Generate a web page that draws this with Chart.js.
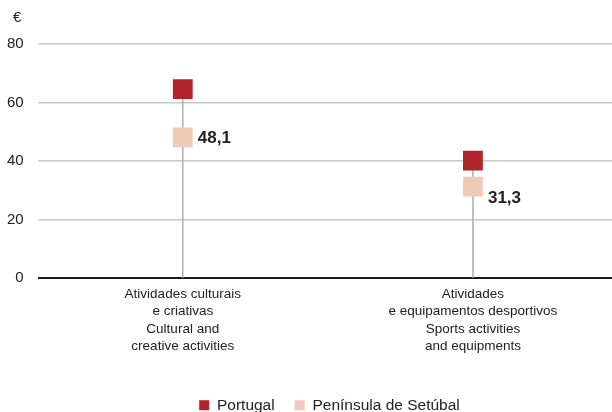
<!DOCTYPE html>
<html lang="pt">
<head>
  <meta charset="UTF-8">
  <title>Atividades culturais e desportivas</title>
  <script src="https://cdn.jsdelivr.net/npm/chart.js"></script>
  <style>
    html, body { margin: 0; padding: 0; background: #fff; overflow: hidden; }
    #wrap { width: 660px; height: 412px; position: relative; }
  </style>
</head>
<body>
<div id="wrap"><canvas id="chart"></canvas></div>

<script>
    // Data
    const categories = [
        ['Atividades culturais', 'e criativas', 'Cultural and', 'creative activities'],
        ['Atividades', 'e equipamentos desportivos', 'Sports activities', 'and equipments']
    ];
    const portugal = [64.6, 40.2];
    const setubal = [48.1, 31.3];
    const yTicks = [0, 20, 40, 60, 80];

    // stem goes from 0 up to the higher marker
    const stems = portugal.map((v, i) => Math.max(v, setubal[i]));

    const textColor = '#222222';
    const fontFamily = '"Liberation Sans", Arial, sans-serif';

    // euro sign above the y axis
    const euroSign = {
        id: 'euroSign',
        afterDraw(chart) {
            const c = chart.ctx;
            c.save();
            c.font = '15px ' + fontFamily;
            c.fillStyle = textColor;
            c.textAlign = 'left';
            c.textBaseline = 'middle';
            c.fillText('€', 13, 18);
            c.restore();
        }
    };

    // nudge the legend to the right like in the original
    const legendShift = {
        id: 'legendShift',
        afterLayout(chart) {
            chart.legend.left += 24;
            chart.legend.right += 24;
        }
    };

    // value labels next to the Peninsula markers
    const valueLabels = {
        id: 'valueLabels',
        afterDatasetsDraw(chart) {
            const c = chart.ctx;
            const meta = chart.getDatasetMeta(2);
            c.save();
            c.font = 'bold 17px ' + fontFamily;
            c.fillStyle = textColor;
            c.textAlign = 'left';
            c.textBaseline = 'middle';
            meta.data.forEach((pt, i) => {
                const dy = i === 1 ? 12 : 1;
                c.fillText(setubal[i].toFixed(1).replace('.', ','), pt.x + 15, pt.y + dy);
            });
            c.restore();
        }
    };

    new Chart(document.getElementById('chart'), {
        data: {
            labels: categories,
            datasets: [
                {
                    type: 'bar',
                    label: 'stem',
                    data: stems,
                    backgroundColor: '#b4b4b4',
                    barThickness: 1,
                    order: 3
                },
                {
                    type: 'line',
                    label: 'Portugal',
                    data: portugal,
                    showLine: false,
                    pointStyle: 'rect',
                    pointRadius: 14,
                    pointHoverRadius: 14,
                    backgroundColor: '#b0242b',
                    borderColor: '#b0242b',
                    borderWidth: 0,
                    pointBorderWidth: 0,
                    order: 1
                },
                {
                    type: 'line',
                    label: 'Península de Setúbal',
                    data: setubal,
                    showLine: false,
                    pointStyle: 'rect',
                    pointRadius: 14,
                    pointHoverRadius: 14,
                    backgroundColor: '#f0cab9',
                    borderColor: '#f0cab9',
                    borderWidth: 0,
                    pointBorderWidth: 0,
                    order: 2
                }
            ]
        },
        options: {
            responsive: true,
            maintainAspectRatio: false,
            animation: false,
            // canvas is wider than the window so the plot runs off the right edge
            layout: { padding: { top: 44, left: -7, right: 42, bottom: -11 } },
            scales: {
                x: {
                    grid: { display: false },
                    border: { display: false },
                    afterFit(axis) { axis.height += 23; },
                    ticks: {
                        color: textColor,
                        font: { family: fontFamily, size: 13.5, lineHeight: 1.3 },
                        padding: -1,
                        maxRotation: 0,
                        autoSkip: false
                    }
                },
                y: {
                    min: 0,
                    max: 80,
                    afterBuildTicks(axis) {
                        axis.ticks = yTicks.map(v => ({ value: v }));
                    },
                    border: { display: false },
                    grid: {
                        drawTicks: false,
                        color: ctx => ctx.tick.value === 0 ? '#1a1a1a' : '#c8c8c8',
                        lineWidth: ctx => ctx.tick.value === 0 ? 2 : 1.5
                    },
                    ticks: {
                        color: textColor,
                        font: { family: fontFamily, size: 15 },
                        padding: 14
                    }
                }
            },
            plugins: {
                legend: {
                    position: 'bottom',
                    labels: {
                        filter: item => item.text !== 'stem',
                        boxWidth: 10,
                        boxHeight: 10,
                        padding: 20,
                        color: textColor,
                        font: { family: fontFamily, size: 15.5 }
                    }
                },
                tooltip: { enabled: false }
            }
        },
        plugins: [euroSign, legendShift, valueLabels]
    });
</script>

</body>
</html>
